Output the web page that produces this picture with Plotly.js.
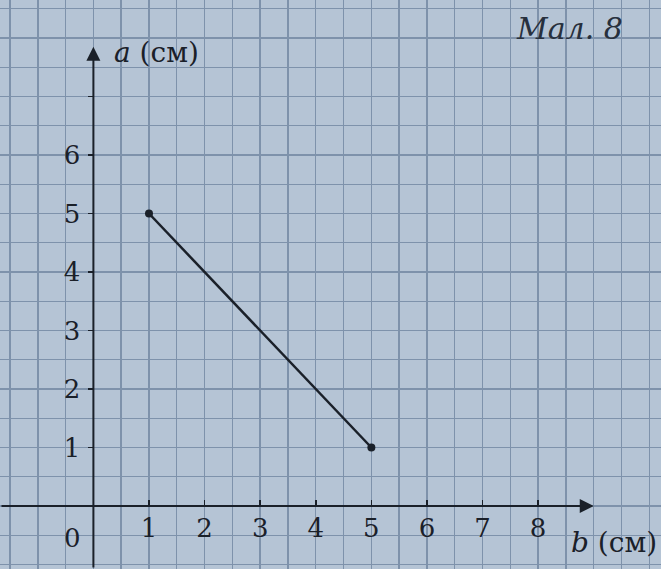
<!DOCTYPE html>
<html>
<head>
<meta charset="utf-8">
<script src="https://cdn.plot.ly/plotly-3.0.1.min.js"></script>
<style>
  html, body { margin: 0; padding: 0; background: #b5c4d5; }
  #chart { width: 661px; height: 569px; }
</style>
</head>
<body>
<div id="chart"></div>
<script>
// segment from the picture (b, a) in cm
const bValues = [1, 5];
const aValues = [5, 1];

const xTickVals = [1, 2, 3, 4, 5, 6, 7, 8];
const xTickText = ['1', '2', '3', '4', '5', '6', '7', '8'];
const yTickVals = [1, 2, 3, 4, 5, 6, 7];
const yTickText = ['1', '2', '3', '4', '5', '6', ''];

const xRange = [-1.68, 10.21];
const yRange = [-1.077, 8.65];
const xAxisEnd = 9.0;
const yAxisEnd = 7.85;

const ink = '#1a2029';
const paper = '#b5c4d5';
const gridCol = '#7e92ab';
const serif = 'DejaVu Serif, Liberation Serif, serif';

const trace = {
  type: 'scatter',
  mode: 'lines+markers',
  x: bValues,
  y: aValues,
  line: { color: ink, width: 2.5 },
  marker: { color: ink, size: 8 },
  hoverinfo: 'skip'
};

const xPos = (0 - yRange[0]) / (yRange[1] - yRange[0]);
const yPos = (0 - xRange[0]) / (xRange[1] - xRange[0]);

const layout = {
  width: 661,
  height: 569,
  margin: { l: 0, r: 0, t: 0, b: 0 },
  paper_bgcolor: paper,
  plot_bgcolor: paper,
  showlegend: false,
  xaxis: {
    range: xRange,
    anchor: 'free',
    position: xPos,
    showline: false,
    zeroline: false,
    showgrid: false,
    tickmode: 'array',
    tickvals: xTickVals,
    ticktext: xTickText,
    ticks: 'inside',
    ticklen: 6,
    tickwidth: 1.5,
    tickcolor: ink,
    ticklabelstandoff: 4,
    tickfont: { family: serif, size: 26, color: ink },
    minor: { tick0: 0, dtick: 0.5, showgrid: true, gridcolor: gridCol, gridwidth: 1.4 }
  },
  yaxis: {
    range: yRange,
    anchor: 'free',
    position: yPos,
    showline: false,
    zeroline: false,
    showgrid: false,
    tickmode: 'array',
    tickvals: yTickVals,
    ticktext: yTickText,
    ticks: 'outside',
    ticklen: 5,
    tickwidth: 1.5,
    tickcolor: ink,
    ticklabelstandoff: 3,
    tickfont: { family: serif, size: 26, color: ink },
    minor: { tick0: 0, dtick: 0.5, showgrid: true, gridcolor: gridCol, gridwidth: 1.4 }
  },
  annotations: [
    // axes with arrow heads
    { x: xAxisEnd, y: 0, ax: xRange[0], ay: 0, xref: 'x', yref: 'y', axref: 'x', ayref: 'y',
      text: '', showarrow: true, arrowhead: 2, arrowsize: 1.4, arrowwidth: 2, arrowcolor: ink, standoff: 0 },
    { x: 0, y: yAxisEnd, ax: 0, ay: yRange[0], xref: 'x', yref: 'y', axref: 'x', ayref: 'y',
      text: '', showarrow: true, arrowhead: 2, arrowsize: 1.4, arrowwidth: 2, arrowcolor: ink, standoff: 0 },
    { x: -0.37, y: -0.55, xref: 'x', yref: 'y', text: '0', showarrow: false,
      font: { family: serif, size: 26, color: ink } },
    { x: 0.33, y: 7.76, xref: 'x', yref: 'y', xanchor: 'left', text: '<i>a</i> (см)', showarrow: false,
      font: { family: serif, size: 28, color: ink } },
    { x: 8.55, y: -0.62, xref: 'x', yref: 'y', xanchor: 'left', text: '<i>b</i> (см)', showarrow: false,
      font: { family: serif, size: 28, color: ink } },
    { x: 9.56, y: 8.17, xref: 'x', yref: 'y', xanchor: 'right', text: '<i>Мал. 8</i>', showarrow: false,
      font: { family: serif, size: 30, color: '#27303d' } }
  ]
};

Plotly.newPlot('chart', [trace], layout, { staticPlot: true, displayModeBar: false });
</script>
</body>
</html>
